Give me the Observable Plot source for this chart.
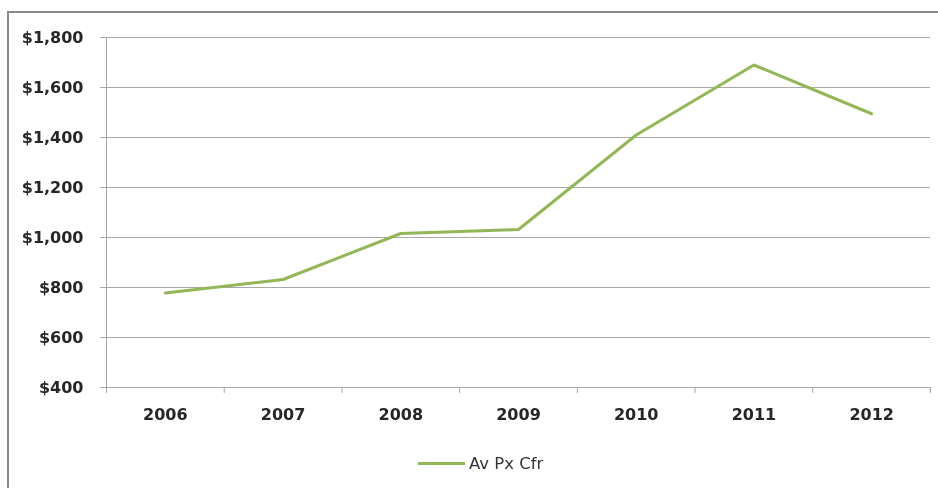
<!DOCTYPE html>
<html>
<head>
<meta charset="utf-8">
<script src="https://cdn.jsdelivr.net/npm/d3@7"></script>
<script src="https://cdn.jsdelivr.net/npm/@observablehq/plot@0.6"></script>
<style>
  body { margin: 0; background: #fff; }
  #chart { position: relative; width: 938px; height: 488px; overflow: hidden; background: #fff; filter: blur(0.3px); }
  #frame { position: absolute; left: 7px; top: 11px; width: 980px; height: 520px;
           border-left: 2px solid #8a8a8a; border-top: 2px solid #8a8a8a; pointer-events: none; }
  #legend { display: flex; align-items: center; height: 46px; padding-left: 418px; box-sizing: border-box;
            font-family: "DejaVu Sans", sans-serif; font-size: 16.5px; color: #333; }
  #legend .swatch { display: inline-block; width: 47px; height: 3px; margin-right: 4px; }
</style>
</head>
<body>
<div id="chart"><div id="frame"></div></div>
<script>
// Average price per year
const years = [2006, 2007, 2008, 2009, 2010, 2011, 2012];
const avPxCfr = [778, 832, 1016, 1032, 1410, 1690, 1495];
const yTicks = [400, 600, 800, 1000, 1200, 1400, 1600, 1800];
const seriesName = "Av Px Cfr";
const lineColor = "#93b656";

const rows = years.map((year, i) => ({year, value: avPxCfr[i]}));
// category boundaries, half a year either side of each label
const bounds = [years[0] - 0.5, ...years.map((y) => y + 0.5)];

const chart = Plot.plot({
  width: 938,
  height: 440,
  marginLeft: 106,
  marginRight: 8,
  marginTop: 37,
  marginBottom: 53,
  style: {fontFamily: "DejaVu Sans, sans-serif", fontSize: "16px", fontWeight: "bold", color: "#262626", background: "transparent"},
  x: {type: "linear", domain: [bounds[0], bounds[bounds.length - 1]]},
  y: {domain: [yTicks[0], yTicks[yTicks.length - 1]]},
  marks: [
    Plot.gridY(yTicks, {stroke: "#a8a8a8", strokeOpacity: 1}),
    Plot.ruleX([bounds[0]], {stroke: "#a8a8a8"}),
    Plot.axisY(yTicks, {tickFormat: d3.format("$,"), tickSize: 6, tickPadding: 17, stroke: "#a8a8a8", label: null}),
    Plot.axisX(bounds, {tickFormat: () => "", tickSize: 6, stroke: "#a8a8a8", label: null}),
    Plot.axisX(years, {tickFormat: (d) => String(d), tickSize: 0, tickPadding: 21, label: null}),
    Plot.line(rows, {x: "year", y: "value", stroke: lineColor, strokeWidth: 3, strokeLinejoin: "miter"})
  ]
});

const holder = document.getElementById("chart");
holder.appendChild(chart);

const legend = document.createElement("div");
legend.id = "legend";
const sw = document.createElement("span");
sw.className = "swatch";
sw.style.background = lineColor;
const label = document.createElement("span");
label.textContent = seriesName;
legend.append(sw, label);
holder.appendChild(legend);
</script>
</body>
</html>
